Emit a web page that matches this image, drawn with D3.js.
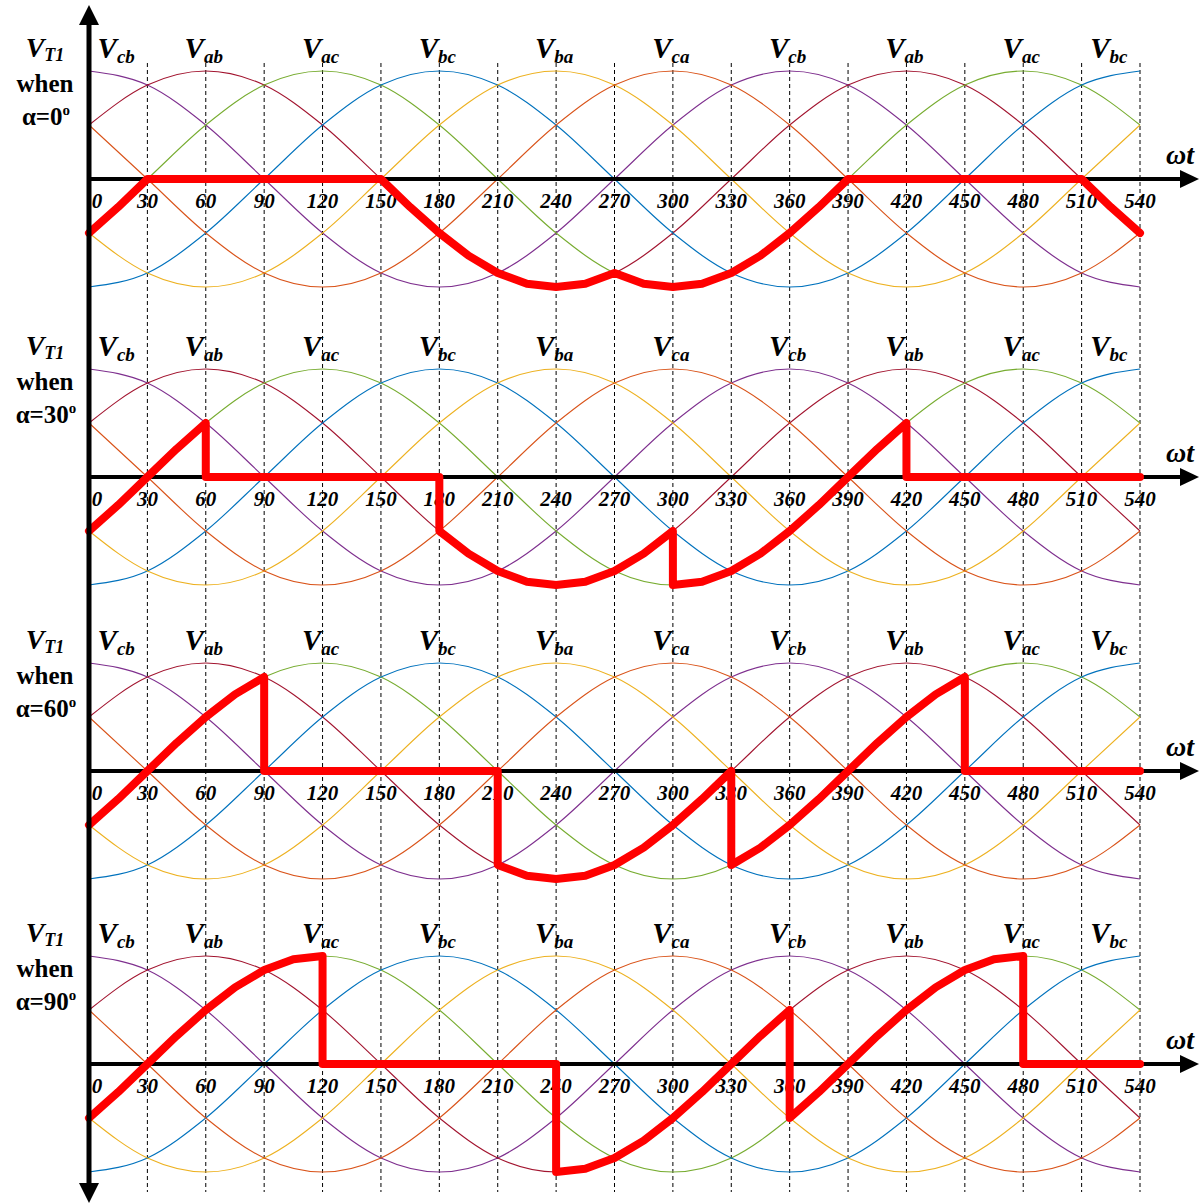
<!DOCTYPE html>
<html>
<head>
  <meta content="text/html;charset=utf-8" http-equiv="Content-Type">
  <title>VT1 waveforms</title>
<script src="https://cdnjs.cloudflare.com/ajax/libs/d3/7.6.1/d3.min.js"></script>
<style>
  body { margin: 0; background: #fff; }
  text { font-family: 'Liberation Serif', 'Times New Roman', serif; font-weight: bold; }
</style>
</head>
<body>
<svg width="1204" height="1204"></svg>
<script>

// angles of the samples (degrees)
let angles = [0,30,60,90,120,150,180,210,240,270,300,330,360,390,420,450,480,510,540];

// line voltages, per unit, read at every 30 degrees
let vcb = [1,.87,.5,0,-.5,-.87,-1,-.87,-.5,0,.5,.87,1,.87,.5,0,-.5,-.87,-1];
let vab = [.5,.87,1,.87,.5,0,-.5,-.87,-1,-.87,-.5,0,.5,.87,1,.87,.5,0,-.5];
let vac = [-.5,0,.5,.87,1,.87,.5,0,-.5,-.87,-1,-.87,-.5,0,.5,.87,1,.87,.5];
let vbc = [-1,-.87,-.5,0,.5,.87,1,.87,.5,0,-.5,-.87,-1,-.87,-.5,0,.5,.87,1];
let vba = [-.5,-.87,-1,-.87,-.5,0,.5,.87,1,.87,.5,0,-.5,-.87,-1,-.87,-.5,0,.5];
let vca = [.5,0,-.5,-.87,-1,-.87,-.5,0,.5,.87,1,.87,.5,0,-.5,-.87,-1,-.87,-.5];

let waves = [
  {name: 'cb', vals: vcb, color: '#7E2F8E'},
  {name: 'ab', vals: vab, color: '#A2142F'},
  {name: 'ac', vals: vac, color: '#77AC30'},
  {name: 'bc', vals: vbc, color: '#0072BD'},
  {name: 'ba', vals: vba, color: '#EDB120'},
  {name: 'ca', vals: vca, color: '#D95319'}
];

// labels above the waves: subscript, angle
let waveLabels = [['cb',15],['ab',60],['ac',120],['bc',180],['ba',240],['ca',300],['cb',360],['ab',420],['ac',480],['bc',525]];

let tickLabels = [0,30,60,90,120,150,180,210,240,270,300,330,360,390,420,450,480,510,540];

// thyristor voltage VT1, [angle, value]
let vt1a0 = [[0,-0.5],[15,-0.26],[30,0],[150,0],[165,-0.26],[180,-0.5],[195,-0.71],[210,-0.87],[225,-0.97],[240,-1],[255,-0.97],[270,-0.87],[285,-0.97],[300,-1],[315,-0.97],[330,-0.87],[345,-0.71],[360,-0.5],[375,-0.26],[390,0],[510,0],[525,-0.26],[540,-0.5]];
let vt1a30 = [[0,-0.5],[15,-0.26],[30,0],[45,0.26],[60,0.5],[60,0],[180,0],[180,-0.5],[195,-0.71],[210,-0.87],[225,-0.97],[240,-1],[255,-0.97],[270,-0.87],[285,-0.71],[300,-0.5],[300,-1],[315,-0.97],[330,-0.87],[345,-0.71],[360,-0.5],[375,-0.26],[390,0],[405,0.26],[420,0.5],[420,0],[540,0]];
let vt1a60 = [[0,-0.5],[15,-0.26],[30,0],[45,0.26],[60,0.5],[75,0.71],[90,0.87],[90,0],[210,0],[210,-0.87],[225,-0.97],[240,-1],[255,-0.97],[270,-0.87],[285,-0.71],[300,-0.5],[315,-0.26],[330,0],[330,-0.87],[345,-0.71],[360,-0.5],[375,-0.26],[390,0],[405,0.26],[420,0.5],[435,0.71],[450,0.87],[450,0],[540,0]];
let vt1a90 = [[0,-0.5],[15,-0.26],[30,0],[45,0.26],[60,0.5],[75,0.71],[90,0.87],[105,0.97],[120,1],[120,0],[240,0],[240,-1],[255,-0.97],[270,-0.87],[285,-0.71],[300,-0.5],[315,-0.26],[330,0],[345,0.26],[360,0.5],[360,-0.5],[375,-0.26],[390,0],[405,0.26],[420,0.5],[435,0.71],[450,0.87],[465,0.97],[480,1],[480,0],[540,0]];

let panels = [
  {alpha: '0',  axisY: 179,  vt: vt1a0},
  {alpha: '30', axisY: 477,  vt: vt1a30},
  {alpha: '60', axisY: 771,  vt: vt1a60},
  {alpha: '90', axisY: 1064, vt: vt1a90}
];

let svg = d3.select('svg');
let x = d3.scaleLinear().domain([0, 540]).range([89, 1140]);
let amp = 108;

// dashed verticals through all panels
svg.append('g')
   .selectAll('line')
   .data(tickLabels.slice(1))
   .enter()
   .append('line')
   .attr('x1', d => x(d)).attr('x2', d => x(d))
   .attr('y1', 63).attr('y2', 1192)
   .attr('stroke', '#000')
   .attr('stroke-width', 1)
   .attr('stroke-dasharray', '4,3');

panels.forEach(p => {
   let y = d3.scaleLinear().domain([-1, 1]).range([p.axisY + amp, p.axisY - amp]);
   let g = svg.append('g');

   let waveLine = d3.line()
          .x((d, i) => x(angles[i]))
          .y(d => y(d))
          .curve(d3.curveMonotoneX);

   g.selectAll('path.wave')
    .data(waves)
    .enter()
    .append('path')
    .attr('class', 'wave')
    .attr('d', d => waveLine(d.vals))
    .attr('fill', 'none')
    .attr('stroke', d => d.color)
    .attr('stroke-width', 1.1);

   // x axis with arrow
   g.append('line')
    .attr('x1', 89).attr('x2', 1185)
    .attr('y1', p.axisY).attr('y2', p.axisY)
    .attr('stroke', '#000').attr('stroke-width', 4);
   g.append('path')
    .attr('d', d3.line()([[1180, p.axisY - 9], [1199, p.axisY], [1180, p.axisY + 9]]) + 'Z')
    .attr('fill', '#000');

   g.append('text')
    .attr('x', 1166).attr('y', p.axisY - 15)
    .attr('font-size', 28)
    .attr('font-style', 'italic')
    .text('ωt');

   // tick labels
   g.selectAll('text.tick')
    .data(tickLabels)
    .enter()
    .append('text')
    .attr('class', 'tick')
    .attr('x', d => d === 0 ? x(d) + 8 : x(d))
    .attr('y', p.axisY + 29)
    .attr('text-anchor', 'middle')
    .attr('font-size', 21)
    .attr('font-style', 'italic')
    .text(d => d);

   // wave labels
   let wl = g.selectAll('text.wl')
    .data(waveLabels)
    .enter()
    .append('text')
    .attr('class', 'wl')
    .attr('x', d => x(d[1]) - 2)
    .attr('y', p.axisY - 121)
    .attr('text-anchor', 'middle')
    .attr('font-style', 'italic');
   wl.append('tspan').attr('font-size', 29).text('V');
   wl.append('tspan').attr('font-size', 19).attr('dy', 5).text(d => d[0]);

   // red VT1 trace
   g.append('path')
    .attr('d', d3.line().x(d => x(d[0])).y(d => y(d[1]))(p.vt))
    .attr('fill', 'none')
    .attr('stroke', '#ff0000')
    .attr('stroke-width', 8)
    .attr('stroke-linejoin', 'round')
    .attr('stroke-linecap', 'round');

   // left-hand label
   let t1 = g.append('text')
    .attr('x', 45).attr('y', p.axisY - 122)
    .attr('text-anchor', 'middle')
    .attr('font-style', 'italic');
   t1.append('tspan').attr('font-size', 28).text('V');
   t1.append('tspan').attr('font-size', 18).attr('dy', 4).text('T1');

   g.append('text')
    .attr('x', 45).attr('y', p.axisY - 87)
    .attr('text-anchor', 'middle')
    .attr('font-size', 25)
    .text('when');

   let t3 = g.append('text')
    .attr('x', 46).attr('y', p.axisY - 54)
    .attr('text-anchor', 'middle')
    .attr('font-size', 25);
   t3.append('tspan').text('α=' + p.alpha);
   t3.append('tspan').attr('font-size', 15).attr('dy', -10).text('o');
});

// y axis, with arrows both ends
svg.append('line')
   .attr('x1', 89).attr('x2', 89)
   .attr('y1', 20).attr('y2', 1188)
   .attr('stroke', '#000').attr('stroke-width', 5);
svg.append('path')
   .attr('d', d3.line()([[79, 25], [89, 5], [99, 25]]) + 'Z')
   .attr('fill', '#000');
svg.append('path')
   .attr('d', d3.line()([[79, 1183], [89, 1203], [99, 1183]]) + 'Z')
   .attr('fill', '#000');

</script>
</body>
</html>
